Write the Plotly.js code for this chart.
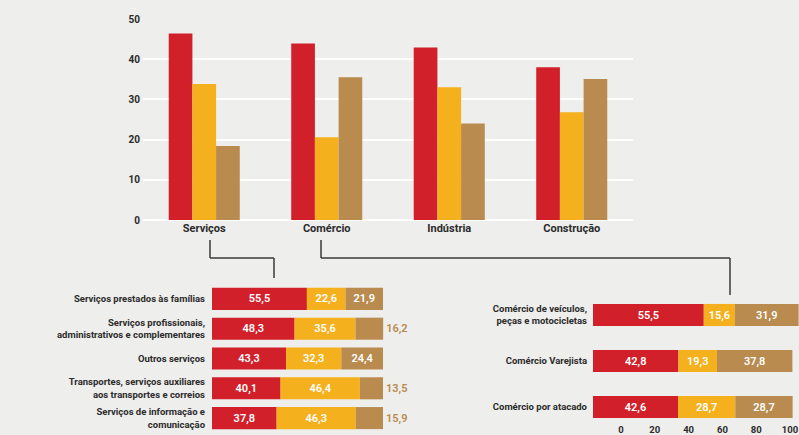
<!DOCTYPE html>
<html>
<head>
<meta charset="utf-8">
<script src="https://cdn.plot.ly/plotly-3.0.1.min.js"></script>
<style>
html,body{margin:0;padding:0;background:#eeeeec;}
#chart{width:799px;height:435px;}
</style>
</head>
<body>
<div id="chart"></div>
<script>
// ---- data ----
const topCats = ["Serviços", "Comércio", "Indústria", "Construção"];
const topRed = [46.4, 43.9, 42.9, 38.0];
const topYellow = [33.8, 20.6, 33.0, 26.8];
const topBrown = [18.4, 35.5, 24.0, 35.1];

const servCats = [
  "Serviços prestados às famílias",
  "Serviços profissionais,<br>administrativos e complementares",
  "Outros serviços",
  "Transportes, serviços auxiliares<br>aos transportes e correios",
  "Serviços de informação e<br>comunicação"
];
const servRed = [55.5, 48.3, 43.3, 40.1, 37.8];
const servYellow = [22.6, 35.6, 32.3, 46.4, 46.3];
const servBrown = [21.9, 16.2, 24.4, 13.5, 15.9];
const servBrownPos = ["inside", "outside", "inside", "outside", "outside"];

const comCats = [
  "Comércio de veículos,<br>peças e motocicletas",
  "Comércio Varejista",
  "Comércio por atacado"
];
const comRed = [55.5, 42.8, 42.6];
const comYellow = [15.6, 19.3, 28.7];
const comBrown = [31.9, 37.8, 28.7];

const pctTicks = [0, 20, 40, 60, 80, 100];

// ---- style ----
const RED = "#d2202a", YEL = "#f5b01d", BRN = "#b98b4f", BG = "#eeeeec", TXT = "#2b2b2b";
const FONT = "Roboto, 'Liberation Sans', sans-serif";
const W = 799, H = 435;
const px = x => x / W, py = y => 1 - y / H;
const fmt = v => v.toFixed(1).replace(".", ",");
const add = (a, b) => a.map((v, i) => v + b[i]);

function hbar(cats, vals, base, color, xa, ya, w, pos) {
  return {
    type: "bar", orientation: "h", y: cats, x: vals, base: base,
    xaxis: xa, yaxis: ya, offsetgroup: "g" + xa, width: w, offset: -w / 2,
    marker: {color: color, line: {width: 0}},
    text: vals.map(fmt), textposition: pos || "inside", insidetextanchor: "middle",
    constraintext: "none", cliponaxis: false,
    insidetextfont: {color: "#ffffff", size: 11, family: FONT, weight: 600},
    outsidetextfont: {color: BRN, size: 11, family: FONT, weight: 600},
    hoverinfo: "skip", showlegend: false
  };
}

const data = [
  {type: "bar", x: topCats, y: topRed, marker: {color: RED}, xaxis: "x", yaxis: "y", hoverinfo: "skip", showlegend: false},
  {type: "bar", x: topCats, y: topYellow, marker: {color: YEL}, xaxis: "x", yaxis: "y", hoverinfo: "skip", showlegend: false},
  {type: "bar", x: topCats, y: topBrown, marker: {color: BRN}, xaxis: "x", yaxis: "y", hoverinfo: "skip", showlegend: false},

  hbar(servCats, servRed, servRed.map(() => 0), RED, "x2", "y2", 0.74),
  hbar(servCats, servYellow, servRed, YEL, "x2", "y2", 0.74),
  hbar(servCats, servBrown, add(servRed, servYellow), BRN, "x2", "y2", 0.74, servBrownPos),

  hbar(comCats, comRed, comRed.map(() => 0), RED, "x3", "y3", 0.48),
  hbar(comCats, comYellow, comRed, YEL, "x3", "y3", 0.48),
  hbar(comCats, comBrown, add(comRed, comYellow), BRN, "x3", "y3", 0.48),

  // carrier for the separate 0-100 scale drawn under the right-hand chart (draws nothing)
  {type: "scatter", mode: "none", x: pctTicks, y: pctTicks.map(() => 0), xaxis: "x4", yaxis: "y4",
   hoverinfo: "skip", showlegend: false}
];

const tickFont = {family: FONT, size: 10, color: TXT, weight: 700};
const catFont = {family: FONT, size: 9.5, color: TXT, weight: 700};

function line(x0, y0, x1, y1) {
  return {type: "line", xref: "paper", yref: "paper", x0: px(x0), y0: py(y0), x1: px(x1), y1: py(y1),
    line: {color: "#3a3a3a", width: 1.5}};
}

const layout = {
  width: W, height: H,
  margin: {l: 0, r: 0, t: 0, b: 0},
  paper_bgcolor: BG, plot_bgcolor: BG,
  barmode: "group", bargap: 0.42, bargroupgap: 0,
  separators: ", ",
  showlegend: false,
  font: {family: FONT, color: TXT},
  xaxis: {domain: [px(143), px(633)], anchor: "y", range: [-0.5, 3.5], type: "category",
    showgrid: false, zeroline: false, showline: false, ticks: "",
    tickfont: {family: FONT, size: 11, color: TXT, weight: 700}},
  yaxis: {domain: [py(220), py(19)], anchor: "x", range: [0, 50], tickvals: [0, 10, 20, 30, 40, 50],
    showgrid: true, gridcolor: "#ffffff", gridwidth: 2, zeroline: true, zerolinecolor: "#ffffff", zerolinewidth: 2,
    showline: false, ticks: "", tickfont: tickFont, ticklabelstandoff: 2},

  xaxis2: {domain: [px(212), px(212 + 1.71 * 100.6)], anchor: "y2", range: [0, 100.6], visible: false},
  yaxis2: {domain: [py(433), py(284)], anchor: "x2", type: "category", range: [4.5, -0.5],
    showgrid: false, zeroline: false, showline: false, ticks: "", tickfont: catFont, ticklabelstandoff: 6},

  xaxis3: {domain: [px(593), 1], anchor: "y3", range: [0, 103.2], visible: false},
  yaxis3: {domain: [py(430), py(292)], anchor: "x3", type: "category", range: [2.5, -0.5],
    showgrid: false, zeroline: false, showline: false, ticks: "", tickfont: catFont, ticklabelstandoff: 5},

  xaxis4: {domain: [px(621), px(790)], anchor: "y4", range: [0, 100], tickvals: pctTicks,
    showgrid: false, zeroline: false, showline: false, ticks: "", ticklabeloverflow: "allow",
    tickfont: {family: FONT, size: 9.5, color: TXT, weight: 700}, ticklabelstandoff: 0},
  yaxis4: {domain: [py(422), py(419)], anchor: "x4", range: [-1, 1], visible: false},

  shapes: [
    line(210, 240, 210, 258), line(210, 258, 274, 258), line(274, 258, 274, 278),
    line(321, 240, 321, 258), line(321, 258, 730, 258), line(730, 258, 730, 295)
  ]
};

Plotly.newPlot("chart", data, layout, {staticPlot: true, displayModeBar: false});
</script>
</body>
</html>
